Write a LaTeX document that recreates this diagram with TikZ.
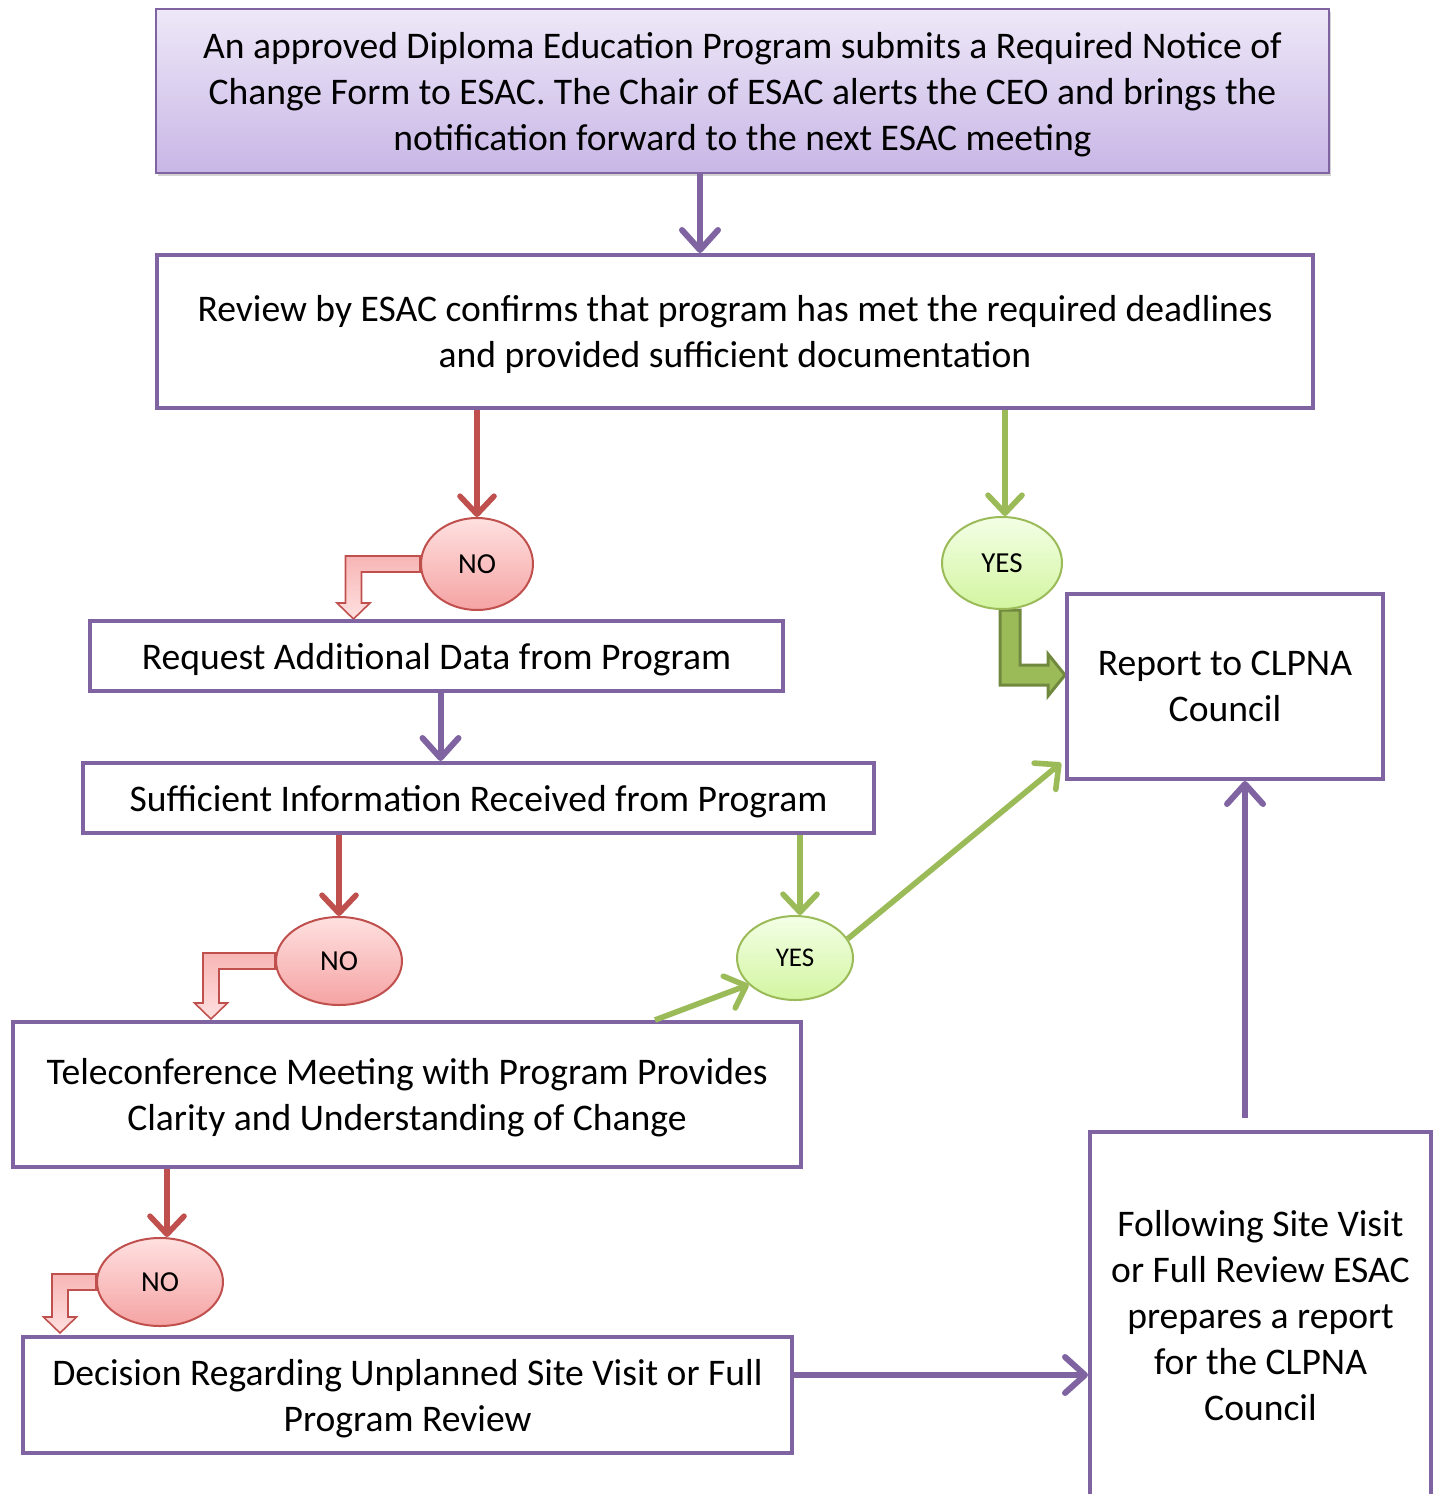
\documentclass[tikz,border=0pt]{standalone}
\usepackage{fontspec}
\setmainfont{Carlito}
\usetikzlibrary{arrows.meta,shapes.geometric,calc,shadows,backgrounds}

\definecolor{purp}{HTML}{8064A2}
\definecolor{purpTop}{HTML}{EEE8F8}
\definecolor{purpBot}{HTML}{C8B6E6}
\definecolor{redl}{HTML}{C0504D}
\definecolor{noTop}{HTML}{FFE0E0}
\definecolor{noBot}{HTML}{F5A3A3}
\definecolor{greenl}{HTML}{9BBB59}
\definecolor{greenD}{HTML}{71893F}
\definecolor{yesTop}{HTML}{F3FFE6}
\definecolor{yesBot}{HTML}{D3F5A0}

\tikzset{
	stepbox/.style={draw=purp, line width=2pt, fill=white, align=center,
		font=\fontsize{18.8}{23}\selectfont, inner sep=0pt, text depth=0pt},
	nobubble/.style={ellipse, draw=redl, line width=1pt, top color=noTop, bottom color=noBot,
		font=\fontsize{14.5}{17}\selectfont, inner sep=0pt},
	yesbubble/.style={ellipse, draw=greenl, line width=1pt, top color=yesTop, bottom color=yesBot,
		font=\fontsize{14.5}{17}\selectfont, inner sep=0pt},
	purparrow/.style={draw=purp, line width=3pt, -{Straight Barb[round,length=10pt,width=18pt]}},
	redarrow/.style={draw=redl, line width=2.8pt, -{Straight Barb[round,length=9pt,width=17pt]}},
	greenarrow/.style={draw=greenl, line width=2.8pt, -{Straight Barb[round,length=9pt,width=17pt]}},
	nobent/.style={draw=redl, line width=0.8pt, top color=noBot!80, bottom color=noTop},
	yesbent/.style={draw=greenD, line width=1.5pt, fill=greenl},
}

% bent block arrow: left from #1, then down to tip #2
\newcommand{\leftdown}[2]{%
	\path[nobent] let \p1=(#1), \p2=(#2) in
		(\x1,\y1+4pt) -- (\x2-4pt,\y1+4pt) -- (\x2-4pt,\y2+8pt) -- (\x2-8.25pt,\y2+8pt)
		-- (\x2,\y2) -- (\x2+8.25pt,\y2+8pt) -- (\x2+4pt,\y2+8pt) -- (\x2+4pt,\y1-4pt)
		-- (\x1,\y1-4pt) -- cycle;}
% bent block arrow: down from #1, then right to tip #2
\newcommand{\downright}[2]{%
	\path[yesbent] let \p1=(#1), \p2=(#2) in
		(\x1-5pt,\y1) -- (\x1-5pt,\y2-5pt) -- (\x2-8.5pt,\y2-5pt) -- (\x2-8.5pt,\y2-10.5pt)
		-- (\x2,\y2) -- (\x2-8.5pt,\y2+10.5pt) -- (\x2-8.5pt,\y2+5pt) -- (\x1+5pt,\y2+5pt)
		-- (\x1+5pt,\y1) -- cycle;}

\begin{document}
\begin{tikzpicture}[x=0.5pt, y=-0.5pt]
	\useasboundingbox (0,0) rectangle (1438,1494);
	\clip (0,0) rectangle (1438,1494);

	% boxes
	\node[stepbox, top color=purpTop, bottom color=purpBot, line width=1pt,
		drop shadow={opacity=0.35, shadow xshift=1pt, shadow yshift=-1.5pt},
		minimum width=586.5pt, minimum height=82pt] (notice) at (742.5,91)
		{An approved Diploma Education Program submits a Required Notice of\\
		 Change Form to ESAC. The Chair of ESAC alerts the CEO and brings the\\
		 notification forward to the next ESAC meeting};
	\node[stepbox, minimum width=578pt, minimum height=76.5pt] (review) at (735,331.5)
		{Review by ESAC confirms that program has met the required deadlines\\
		 and provided sufficient documentation};
	\node[stepbox, minimum width=346.5pt, minimum height=35pt] (request) at (436.5,656)
		{Request Additional Data from Program};
	\node[stepbox, minimum width=395.5pt, minimum height=35pt] (suffic) at (478.5,798)
		{Sufficient Information Received from Program};
	\node[stepbox, minimum width=394pt, minimum height=72.5pt] (tele) at (407,1094.5)
		{Teleconference Meeting with Program Provides\\
		 Clarity and Understanding of Change};
	\node[stepbox, minimum width=384.5pt, minimum height=58pt] (decision) at (407.5,1395)
		{Decision Regarding Unplanned Site Visit or Full\\
		 Program Review};
	\node[stepbox, minimum width=158pt, minimum height=92.5pt] (report) at (1225,686.5)
		{Report to CLPNA\\ Council};
	\node[stepbox, minimum width=170.5pt, minimum height=183pt] (follow) at (1260.5,1315)
		{Following Site Visit\\ or Full Review ESAC\\ prepares a report\\ for the CLPNA\\ Council};

	% decisions
	\node[nobubble, minimum width=56pt, minimum height=46pt] (no1) at (477,564) {NO};
	\node[yesbubble, minimum width=60pt, minimum height=46pt] (yes1) at (1002,563) {YES};
	\node[nobubble, minimum width=63pt, minimum height=44pt] (no2) at (339,961) {NO};
	\node[yesbubble, minimum width=58pt, minimum height=42pt,
		font=\fontsize{13.5}{16}\selectfont] (yes2) at (795,958) {YES};
	\node[nobubble, minimum width=63pt, minimum height=44pt] (no3) at (160,1282) {NO};

	\coordinate (tip1) at (353.5,619);
	\coordinate (tip2) at (211,1019);
	\coordinate (tip3) at (60,1333);

	\begin{scope}[on background layer]
		\leftdown{no1.west}{tip1}
		\leftdown{no2.west}{tip2}
		\leftdown{no3.west}{tip3}
		\downright{[xshift=4pt]yes1.south}{[yshift=5.75pt]report.west}
	\end{scope}

	% connectors
	\draw[purparrow] ([xshift=-21.25pt]notice.south) -- ([xshift=-21.25pt]notice.south |- review.north);
	\draw[redarrow] (no1.north |- review.south) -- (no1.north);
	\draw[greenarrow] ([xshift=1.5pt]yes1.north |- review.south) -- ([xshift=1.5pt]yes1.north);
	\draw[purparrow] ([xshift=2pt]request.south) -- ([xshift=2pt]request.south |- suffic.north);
	\draw[redarrow] (no2.north |- suffic.south) -- (no2.north);
	\draw[greenarrow] ([xshift=2.5pt]yes2.north |- suffic.south) -- ([xshift=2.5pt]yes2.north);
	\draw[greenarrow] ([xshift=124pt]tele.north) -- (yes2.210);
	\draw[greenarrow] (yes2.20) -- ([yshift=9pt,xshift=-2pt]report.south west);
	\draw[redarrow] ([xshift=3.5pt]no3.north |- tele.south) -- ([xshift=3.5pt]no3.north);
	\draw[purparrow] ([yshift=10pt]decision.east) -- ([yshift=10pt]decision.east -| follow.west);
	\draw[purparrow] ([xshift=-7.75pt,yshift=6pt]follow.north) -- ([xshift=-7.75pt]follow.north |- report.south);
\end{tikzpicture}
\end{document}
